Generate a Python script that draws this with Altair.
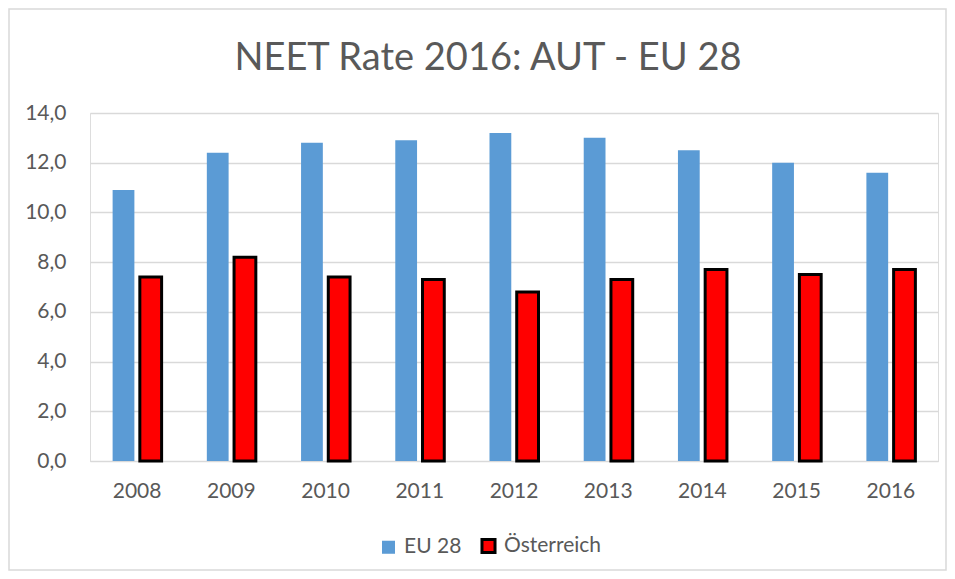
import altair as alt
import pandas as pd

years = ["2008", "2009", "2010", "2011", "2012", "2013", "2014", "2015", "2016"]
eu28 = [10.9, 12.4, 12.8, 12.9, 13.2, 13.0, 12.5, 12.0, 11.6]
aut = [7.4, 8.2, 7.4, 7.3, 6.8, 7.3, 7.7, 7.5, 7.7]
series = ["EU 28", "Österreich"]
y_ticks = [0, 2, 4, 6, 8, 10, 12, 14]

rows = []
for i, yr in enumerate(years):
    rows.append({"year": yr, "series": series[0], "value": eu28[i]})
    rows.append({"year": yr, "series": series[1], "value": aut[i]})
df = pd.DataFrame(rows)

FONT = "Lato"
TXT = "#595959"

legend_kw = dict(title=None, orient="none", legendX=288, legendY=422,
                 direction="horizontal", symbolType="square", symbolSize=170,
                 symbolStrokeWidth=2.5, labelFontSize=21, labelColor=TXT,
                 labelFont=FONT, columnPadding=13, labelOffset=5)

bars = alt.Chart(df).mark_bar().encode(
    x=alt.X("year:N", sort=years, title=None,
            scale=alt.Scale(paddingInner=0.48, paddingOuter=0.24),
            axis=alt.Axis(labelAngle=0, ticks=False, domain=True, domainColor="#D9D9D9",
                          labelFontSize=21, labelColor=TXT, labelFont=FONT, labelPadding=19)),
    xOffset=alt.XOffset("series:N", sort=series, scale=alt.Scale(paddingInner=0.2)),
    y=alt.Y("value:Q", title=None,
            scale=alt.Scale(domain=[0, 14], nice=False),
            axis=alt.Axis(values=y_ticks, labelExpr="replace(format(datum.value, '.1f'), '.', ',')",
                          ticks=False, domain=False, gridColor="#D9D9D9", gridWidth=1.3,
                          labelFontSize=21, labelColor=TXT, labelFont=FONT, labelPadding=24)),
    color=alt.Color("series:N", sort=series,
                    scale=alt.Scale(domain=series, range=["#5B9BD5", "#FF0000"]),
                    legend=alt.Legend(**legend_kw)),
    stroke=alt.Stroke("series:N", sort=series,
                      scale=alt.Scale(domain=series, range=["#5B9BD5", "#000000"]),
                      legend=alt.Legend(**legend_kw)),
    strokeWidth=alt.StrokeWidth("series:N", sort=series,
                                scale=alt.Scale(domain=series, range=[0, 3]), legend=None),
)

frame = alt.Chart(pd.DataFrame({"k": [0]})).mark_rect(
    fill=None, stroke="#D9D9D9", strokeWidth=1.5
).encode(x=alt.value(-81), x2=alt.value(856), y=alt.value(-104), y2=alt.value(457))

chart = alt.layer(bars, frame).properties(
    width=848, height=348,
    autosize=alt.AutoSizeParams(type="none"),
    padding={"left": 82, "top": 105, "right": 9, "bottom": 110},
    title=alt.Title("NEET Rate 2016: AUT - EU 28", fontSize=38, font=FONT, fontWeight="normal",
                    color=TXT, anchor="middle", dx=-26, offset=-70, frame="group"),
).configure_view(stroke=None).configure(background="white")

chart.save("out.html", embed_options={"renderer": "svg", "actions": False})
